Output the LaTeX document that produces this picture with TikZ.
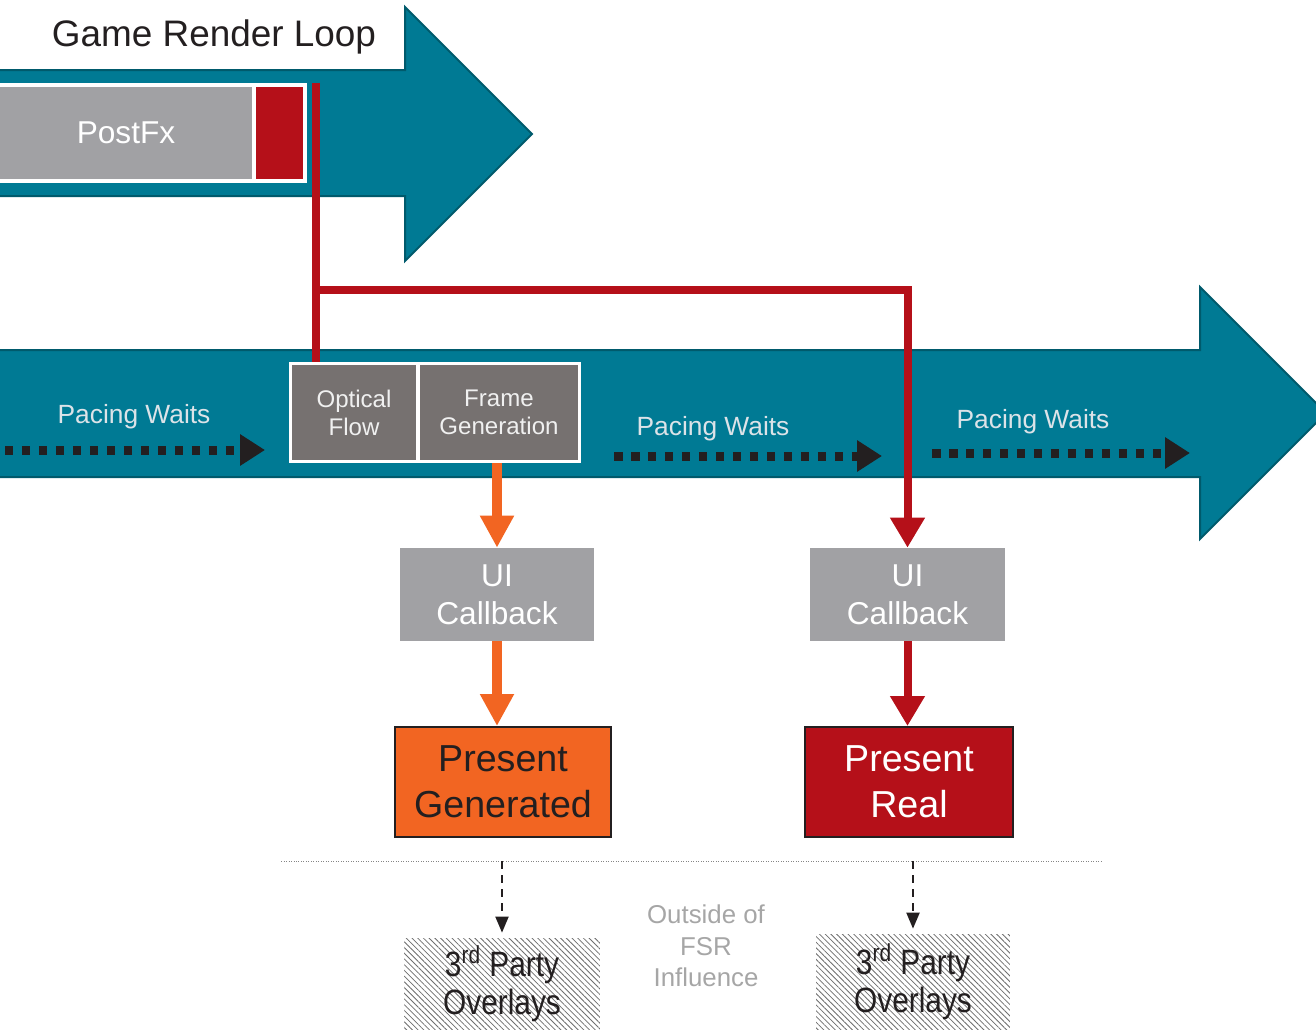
\documentclass[tikz,border=0pt]{standalone}
\usepackage{fontspec}
\setmainfont{Liberation Sans}
\newfontfamily\narrowfont[FakeStretch=0.85]{Liberation Sans}
\usetikzlibrary{arrows.meta,patterns.meta}

\definecolor{loopteal}{HTML}{007A94}
\definecolor{loopedge}{HTML}{005A6C}
\definecolor{boxlight}{HTML}{A1A1A4}
\definecolor{boxdark}{HTML}{767170}
\definecolor{fsrred}{HTML}{B51019}
\definecolor{fsrorange}{HTML}{F26522}
\definecolor{inkdark}{HTML}{231F20}
\definecolor{pacetext}{HTML}{DCE3E8}
\definecolor{softgray}{HTML}{A6A6A6}
\definecolor{hatch}{HTML}{6E6E6E}

\begin{document}
\begin{tikzpicture}[x=0.02cm,y=-0.02cm,
  band/.style={fill=loopteal, draw=loopedge, line width=0.04cm, line join=miter},
  block/.style={rectangle, inner sep=0pt, align=center},
  frame/.style={block, fill=white},
  lightbox/.style={block, fill=boxlight, text=white},
  darkbox/.style={block, fill=boxdark, text=white!94!black,
    minimum height=1.9cm, font=\fontsize{13.7}{16}\selectfont},
  uibox/.style={lightbox, minimum width=3.88cm, minimum height=1.86cm,
    font=\fontsize{18}{21.5}\selectfont},
  presentbox/.style={block, draw=inkdark, line width=0.04cm, minimum height=2.2cm,
    font=\fontsize{21.4}{26}\selectfont},
  overlaybox/.style={block, preaction={fill=white},
    pattern={Lines[angle=-45,distance=2.3pt,line width=0.45pt]},
    pattern color=hatch, text=inkdark, font=\narrowfont\fontsize{20}{21.5}\selectfont},
  pacing/.style={text=pacetext, font=\fontsize{15}{18}\selectfont},
  waitarrow/.style={draw=inkdark, line width=0.18cm, dash pattern=on 0.17cm off 0.17cm,
    -{Triangle[width=0.6cm,length=0.5cm]}},
  redwire/.style={draw=fsrred, line width=0.16cm, line join=miter},
  redarrow/.style={redwire, -{Triangle[width=0.66cm,length=0.6cm]}},
  orangearrow/.style={draw=fsrorange, line width=0.2cm, -{Triangle[width=0.64cm,length=0.64cm]}},
  taparrow/.style={draw=inkdark, line width=0.04cm, dash pattern=on 0.16cm off 0.12cm,
    -{Triangle[width=0.26cm,length=0.32cm]}, shorten >=0.1cm}
]
\useasboundingbox (0,0) rectangle (1316,1029);

% render loop band (top) and presentation band (middle)
\draw[band] (-10,70) -- (405,70) -- (405,7) -- (532,134) -- (405,261)
  -- (405,196) -- (-10,196) -- cycle;
\draw[band] (-10,350) -- (1200,350) -- (1200,287) -- (1326,413) -- (1200,539)
  -- (1200,477) -- (-10,477) -- cycle;

\node[font=\fontsize{21}{25}\selectfont, text=inkdark] (title) at (214,37) {Game Render Loop};

% PostFx pass with its final (red) stage
\node[frame, minimum width=6.14cm, minimum height=2cm] (pfxframe) at (153.5,133) {};
\node[lightbox, minimum width=5.04cm, minimum height=1.84cm,
  font=\fontsize{18}{21}\selectfont] (postfx) at (126,133) {PostFx};
\node[block, fill=fsrred, minimum width=0.94cm, minimum height=1.84cm] (pfxend) at (279.5,133) {};

% frame generation stages
\node[frame, minimum width=5.84cm, minimum height=2.02cm] (fgframe) at (435,412.5) {};
\node[darkbox, minimum width=2.48cm] (of) at (354,412.5) {Optical\\Flow};
\node[darkbox, minimum width=3.16cm] (fg) at (499,412.5) {Frame\\Generation};

% pacing waits
\node[pacing] (pw1) at (134,417) {Pacing Waits};
\node[pacing] (pw2) at (713,429) {Pacing Waits};
\node[pacing] (pw3) at (1033,422) {Pacing Waits};
\coordinate (w1a) at (5,450);   \coordinate (w1b) at (265,450);
\coordinate (w2a) at (614,456); \coordinate (w2b) at (882,456);
\coordinate (w3a) at (932,453); \coordinate (w3b) at (1190,453);
\draw[waitarrow] (w1a) -- (w1b);
\draw[waitarrow] (w2a) -- (w2b);
\draw[waitarrow] (w3a) -- (w3b);

% UI callbacks and presents
\node[uibox] (ui1) at (497,594.5) {UI\\Callback};
\node[uibox, minimum width=3.9cm] (ui2) at (907.5,594.5) {UI\\Callback};
\node[presentbox, fill=fsrorange, text=inkdark, minimum width=4.32cm] (pg) at (503,782) {Present\\Generated};
\node[presentbox, fill=fsrred, text=white, minimum width=4.16cm] (pr) at (909,782) {Present\\Real};

% red path from the end of PostFx
\coordinate (tap) at (316,83);
\coordinate (split) at (316,290);
\draw[redwire] (tap) -- (tap |- fgframe.north);
\draw[redarrow] (split) -| (ui2.north);
\draw[redarrow] (ui2.south) -- (ui2.south |- pr.north);

% orange path from frame generation
\draw[orangearrow] (ui1.north |- fgframe.south) -- (ui1.north);
\draw[orangearrow] (ui1.south) -- (ui1.south |- pg.north);

% boundary of FSR influence
\coordinate (sepL) at (281,861);
\coordinate (sepR) at (1103,861);
\draw[softgray!80!black, line width=0.02cm, dash pattern=on 0.02cm off 0.03cm] (sepL) -- (sepR);

\node[overlaybox, minimum width=3.92cm, minimum height=1.82cm] (ov1) at (502,983.5) {3\textsuperscript{rd} Party\\Overlays};
\node[overlaybox, minimum width=3.88cm, minimum height=1.9cm] (ov2) at (913,981.5) {3\textsuperscript{rd} Party\\Overlays};
\draw[taparrow] (ov1.north |- sepL) -- (ov1.north);
\draw[taparrow] (ov2.north |- sepL) -- (ov2.north);

\node[text=softgray, align=center, font=\fontsize{14.7}{18}\selectfont] (outside) at (706,946) {Outside of\\FSR\\Influence};
\end{tikzpicture}
\end{document}
